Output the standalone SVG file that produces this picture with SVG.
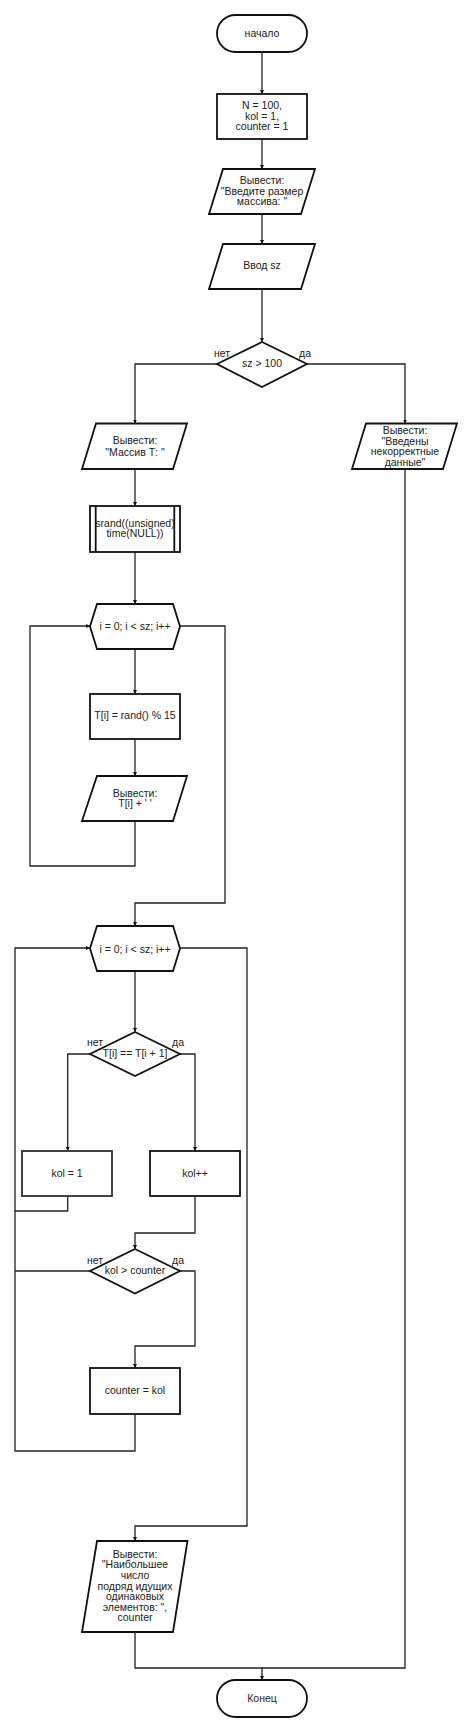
<svg xmlns="http://www.w3.org/2000/svg" width="465" height="1733" viewBox="0 0 465 1733">
<style>
.s{fill:#fff;stroke:#111;stroke-width:1.8}
.g{fill:#fff;stroke:#3a3a3a;stroke-width:1.9}
.c{fill:none;stroke:#222;stroke-width:1.3}
text{font-family:"Liberation Sans",Arial,sans-serif;font-size:10.5px;fill:#222;text-anchor:middle}
.l{text-anchor:start}
</style>
<defs>
<marker id="a" markerUnits="userSpaceOnUse" markerWidth="4" markerHeight="4" refX="3.5" refY="2" orient="auto">
<path d="M0,0 L4,2 L0,4 Z" fill="#111"/>
</marker>
</defs>
<rect width="465" height="1733" fill="#fff"/>
<g id="connectors">
<path class="c" d="M262,52 V93.5" marker-end="url(#a)"/>
<path class="c" d="M262,139 V168.5" marker-end="url(#a)"/>
<path class="c" d="M262,214 V243.5" marker-end="url(#a)"/>
<path class="c" d="M262,289 V341.5" marker-end="url(#a)"/>
<path class="c" d="M217,364 H135 V423" marker-end="url(#a)"/>
<path class="c" d="M307,364 H405 V423" marker-end="url(#a)"/>
<path class="c" d="M135,469 V505.5" marker-end="url(#a)"/>
<path class="c" d="M135,552 V603.5" marker-end="url(#a)"/>
<path class="c" d="M135,649 V693.5" marker-end="url(#a)"/>
<path class="c" d="M135,739 V775.5" marker-end="url(#a)"/>
<path class="c" d="M135,821 V866 H30 V626 H89.5" marker-end="url(#a)"/>
<path class="c" d="M180,626 H225 V903 H135 V925.5" marker-end="url(#a)"/>
<path class="c" d="M135,971 V1031.5" marker-end="url(#a)"/>
<path class="c" d="M90,1054 H67.7 V1150.5" marker-end="url(#a)"/>
<path class="c" d="M180,1054 H195 V1150.5" marker-end="url(#a)"/>
<path class="c" d="M67.7,1196 V1211 H15"/>
<path class="c" d="M195,1196 V1233 H135 V1248.5" marker-end="url(#a)"/>
<path class="c" d="M90,1271 H15"/>
<path class="c" d="M180,1271 H195 V1346 H135 V1367.5" marker-end="url(#a)"/>
<path class="c" d="M135,1414 V1451 H15 V948 H89.5" marker-end="url(#a)"/>
<path class="c" d="M180,948 H247 V1526 H135 V1540.5" marker-end="url(#a)"/>
<path class="c" d="M135,1632 V1668 H262 V1679.5" marker-end="url(#a)"/>
<path class="c" d="M405,469 V1668 H262"/>
</g>
<g id="start">
<rect class="s" x="217" y="15" width="90" height="37" rx="18.5"/>
<text x="262" y="37">начало</text>
</g>
<g id="init">
<rect class="s" x="217" y="94" width="90" height="45"/>
<text x="262" y="108.8">N = 100,</text>
<text x="262" y="119.5">kol = 1,</text>
<text x="262" y="130.2">counter = 1</text>
</g>
<g id="out1">
<path class="s" d="M223,169 H315 L301,214 H209 Z"/>
<text x="262" y="183.8">Вывести:</text>
<text x="262" y="194.5">"Введите размер</text>
<text x="262" y="205.2">массива: "</text>
</g>
<g id="in1">
<path class="s" d="M223,244 H315 L301,289 H209 Z"/>
<text x="262" y="268.8">Ввод sz</text>
</g>
<g id="cond1">
<path class="s" d="M262,342 L307,364 L262,387 L217,364 Z"/>
<text x="262" y="366.8">sz &gt; 100</text>
<text class="l" x="214" y="356.5">нет</text>
<text class="l" x="299" y="356.5">да</text>
</g>
<g id="out2">
<path class="s" d="M96,423.5 H187 L173,469 H82 Z"/>
<text x="135" y="443.8">Вывести:</text>
<text x="135" y="455.5">"Массив Т: "</text>
</g>
<g id="out3">
<path class="s" d="M366,423.5 H457 L443,469 H352 Z"/>
<text x="405" y="433.8">Вывести:</text>
<text x="405" y="444.5">"Введены</text>
<text x="405" y="455.2">некорректные</text>
<text x="405" y="465.8">данные"</text>
</g>
<g id="srand">
<rect class="s" x="90" y="506" width="90" height="46"/>
<line class="s" x1="95.7" y1="506" x2="95.7" y2="552" stroke-width="1.2"/>
<line class="s" x1="174.3" y1="506" x2="174.3" y2="552" stroke-width="1.2"/>
<text x="135" y="526.5">srand((unsigned)</text>
<text x="135" y="537.2">time(NULL))</text>
</g>
<g id="loop1">
<path class="s" d="M97,604 H173 L180,626.5 L173,649 H97 L90,626.5 Z"/>
<text x="135" y="629.8">i = 0; i &lt; sz; i++</text>
</g>
<g id="assign">
<rect class="s" x="90" y="694" width="90" height="45"/>
<text x="135" y="718.8">T[i] = rand() % 15</text>
</g>
<g id="out4">
<path class="s" d="M97,776 H187 L173,821 H82 Z"/>
<text x="135" y="796.6">Вывести:</text>
<text x="135" y="807.2">T[i] + ' '</text>
</g>
<g id="loop2">
<path class="s" d="M97,926 H173 L180,948.5 L173,971 H97 L90,948.5 Z"/>
<text x="135" y="952.5">i = 0; i &lt; sz; i++</text>
</g>
<g id="cond2">
<path class="s" d="M135,1032 L180,1054 L135,1076 L90,1054 Z"/>
<text x="135" y="1056.8">T[i] == T[i + 1]</text>
<text class="l" x="87" y="1046.3">нет</text>
<text class="l" x="172" y="1046.3">да</text>
</g>
<g id="kol1">
<rect class="g" x="22" y="1151" width="90" height="45"/>
<text x="67" y="1176.8">kol = 1</text>
</g>
<g id="kolinc">
<rect class="s" x="150" y="1151" width="90" height="45"/>
<text x="195" y="1176.8">kol++</text>
</g>
<g id="cond3">
<path class="s" d="M135,1249 L180,1271 L135,1293.5 L90,1271 Z"/>
<text x="135" y="1273.8">kol &gt; counter</text>
<text class="l" x="87" y="1264.3">нет</text>
<text class="l" x="172" y="1264.3">да</text>
</g>
<g id="setcounter">
<rect class="s" x="90" y="1368" width="90" height="46"/>
<text x="135" y="1393.8">counter = kol</text>
</g>
<g id="out5">
<path class="s" d="M97,1541 H187.5 L173,1632 H82 Z"/>
<text x="135" y="1557.8">Вывести:</text>
<text x="135" y="1568.3">"Наибольшее</text>
<text x="135" y="1579">число</text>
<text x="135" y="1589.5">подряд идущих</text>
<text x="135" y="1600.2">одинаковых</text>
<text x="135" y="1610.6">элементов: ",</text>
<text x="135" y="1621">counter</text>
</g>
<g id="end">
<rect class="s" x="217" y="1680" width="90" height="37" rx="18.5"/>
<text x="262" y="1701.8">Конец</text>
</g>
</svg>
